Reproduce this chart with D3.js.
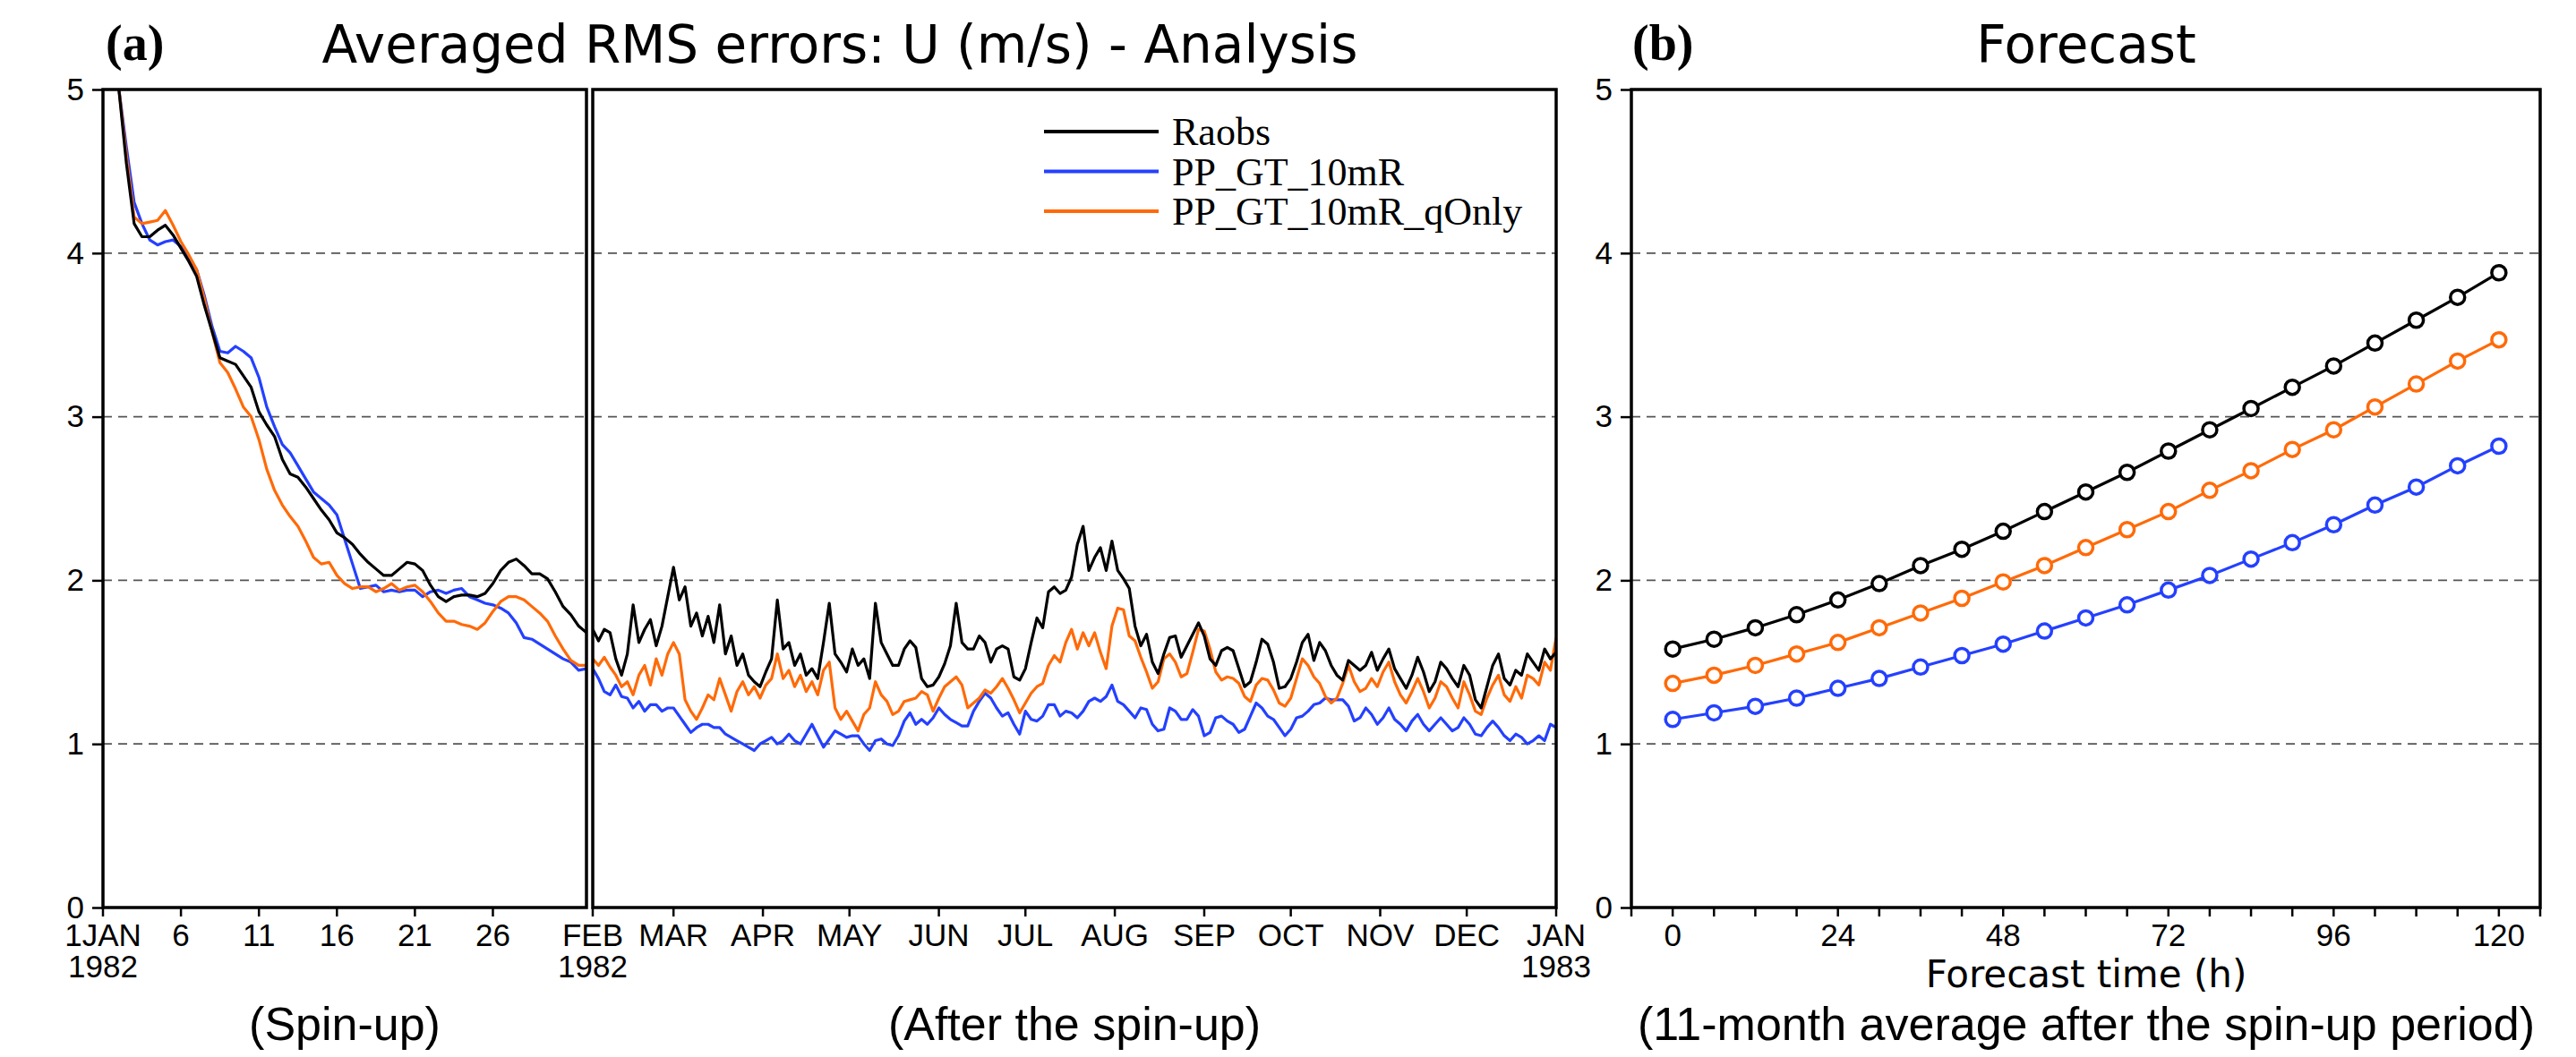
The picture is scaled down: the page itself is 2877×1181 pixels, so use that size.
<!DOCTYPE html>
<html>
<head>
<meta charset="utf-8">
<script src="https://cdn.jsdelivr.net/npm/d3@7"></script>
<style>
  body { margin: 0; background: #fff; }
</style>
</head>
<body>
<div id="chart"></div>
<script>
// Series names and colours
const seriesNames = ["Raobs", "PP_GT_10mR", "PP_GT_10mR_qOnly"];
const seriesColors = ["#000000", "#2440ff", "#ff6a08"];

// Spin-up period: 1 Jan 1982 + 1 day, every 12 h
const spinStartDay = 1;
const spinStepDays = 0.5;
const spinRaobs = [5.02,4.55,4.18,4.10,4.10,4.14,4.17,4.11,4.03,3.95,3.86,3.68,3.52,3.36,3.34,3.32,3.25,3.18,3.03,2.95,
  2.88,2.74,2.65,2.63,2.57,2.50,2.43,2.37,2.29,2.26,2.22,2.16,2.11,2.07,2.03,2.03,2.07,2.11,2.10,2.06,
  1.97,1.90,1.87,1.90,1.91,1.91,1.90,1.92,1.98,2.06,2.11,2.13,2.09,2.04,2.04,2.01,1.93,1.84,1.79,1.72,1.68];
const spinGT = [5.02,4.65,4.31,4.18,4.08,4.05,4.07,4.08,4.04,3.97,3.90,3.74,3.55,3.40,3.39,3.43,3.40,3.36,3.24,3.06,
  2.94,2.83,2.78,2.70,2.62,2.54,2.50,2.46,2.40,2.25,2.10,1.95,1.96,1.97,1.93,1.94,1.93,1.94,1.94,1.90,
  1.93,1.94,1.92,1.94,1.95,1.90,1.88,1.86,1.85,1.83,1.80,1.74,1.65,1.64,1.61,1.58,1.55,1.52,1.50,1.45,1.46];
const spinQOnly = [5.02,4.60,4.22,4.18,4.19,4.20,4.26,4.17,4.07,3.99,3.90,3.72,3.52,3.33,3.27,3.17,3.06,3.00,2.86,2.68,
  2.55,2.46,2.39,2.33,2.24,2.14,2.10,2.11,2.03,1.98,1.95,1.96,1.96,1.93,1.95,1.98,1.94,1.96,1.97,1.93,
  1.87,1.80,1.75,1.75,1.73,1.72,1.70,1.74,1.81,1.87,1.90,1.90,1.88,1.84,1.80,1.75,1.66,1.58,1.51,1.48,1.48];

// After the spin-up: 1 Feb 1982 onward, every 2 days
const afterStepDays = 2;
const afterRaobs = [1.70,1.63,1.70,1.68,1.52,1.42,1.55,1.85,1.62,1.70,1.76,1.60,1.72,1.90,2.08,1.88,1.96,1.72,1.80,1.66,
  1.78,1.62,1.85,1.55,1.66,1.48,1.55,1.42,1.38,1.35,1.44,1.52,1.88,1.58,1.62,1.48,1.55,1.42,1.46,1.40,
  1.62,1.86,1.55,1.50,1.44,1.58,1.48,1.52,1.40,1.86,1.62,1.55,1.48,
  1.48,1.58,1.63,1.59,1.40,1.35,1.36,1.41,1.49,1.60,1.86,1.62,1.58,1.58,1.66,1.62,1.50,1.58,1.60,1.58,
  1.41,1.39,1.46,1.62,1.77,1.71,1.93,1.96,1.92,1.94,2.02,2.22,2.33,2.06,2.14,2.20,2.06,2.24,2.06,2.01,
  1.95,1.72,1.60,1.67,1.50,1.43,1.55,1.65,1.66,1.53,1.60,1.67,1.74,1.66,1.52,1.48,1.57,1.59,1.57,1.46,
  1.35,1.38,1.50,1.64,1.61,1.50,1.34,1.35,1.40,1.50,1.62,1.67,1.51,1.62,1.57,1.48,1.42,1.39,1.51,1.48,
  1.45,
  1.48,1.56,1.45,1.52,1.58,1.46,1.40,1.34,1.42,1.53,1.44,1.32,1.38,1.50,1.46,1.40,1.35,1.48,1.42,1.27,
  1.22,1.35,1.48,1.55,1.40,1.36,1.45,1.42,1.55,1.50,1.45,1.58,1.52,1.56];
const afterGT = [1.46,1.40,1.32,1.30,1.36,1.29,1.28,1.22,1.26,1.20,1.24,1.24,1.20,1.22,1.22,1.17,1.12,1.07,1.10,1.12,
  1.12,1.10,1.10,1.06,1.04,1.02,1.00,0.98,0.96,1.00,1.02,1.04,1.00,1.02,1.06,1.02,1.00,1.06,1.12,1.05,
  0.98,1.03,1.08,1.06,1.04,1.05,1.05,1.00,0.96,1.02,1.03,1.00,0.99,
  1.05,1.14,1.19,1.12,1.15,1.12,1.16,1.22,1.18,1.15,1.13,1.11,1.11,1.20,1.26,1.31,1.28,1.22,1.17,1.19,
  1.12,1.06,1.20,1.15,1.14,1.17,1.24,1.24,1.17,1.20,1.19,1.16,1.20,1.26,1.28,1.26,1.29,1.36,1.26,1.24,
  1.20,1.16,1.22,1.21,1.12,1.08,1.09,1.22,1.20,1.15,1.15,1.21,1.17,1.05,1.07,1.16,1.17,1.14,1.12,1.07,
  1.09,1.17,1.25,1.22,1.17,1.15,1.10,1.05,1.09,1.16,1.17,1.20,1.24,1.25,1.28,1.27,1.27,1.27,1.23,1.14,
  1.16,
  1.22,1.18,1.12,1.16,1.22,1.15,1.12,1.08,1.14,1.18,1.12,1.08,1.12,1.16,1.12,1.08,1.10,1.16,1.12,1.06,
  1.05,1.10,1.14,1.10,1.05,1.02,1.06,1.04,1.00,1.02,1.05,1.02,1.12,1.10];
const afterQOnly = [1.52,1.48,1.53,1.47,1.42,1.35,1.38,1.30,1.42,1.48,1.36,1.52,1.42,1.55,1.62,1.55,1.27,1.20,1.15,1.22,
  1.30,1.27,1.40,1.30,1.20,1.32,1.38,1.30,1.35,1.28,1.36,1.40,1.55,1.40,1.45,1.35,1.42,1.32,1.38,1.30,
  1.45,1.50,1.22,1.15,1.20,1.14,1.08,1.18,1.22,1.38,1.30,1.26,1.18,
  1.20,1.26,1.27,1.28,1.32,1.30,1.20,1.28,1.35,1.38,1.41,1.36,1.22,1.25,1.28,1.33,1.31,1.35,1.40,1.34,
  1.27,1.19,1.25,1.31,1.35,1.37,1.48,1.54,1.50,1.62,1.70,1.58,1.68,1.60,1.68,1.56,1.46,1.72,1.83,1.82,
  1.66,1.63,1.53,1.44,1.34,1.38,1.52,1.55,1.50,1.41,1.43,1.56,1.70,1.69,1.58,1.44,1.39,1.41,1.40,1.37,
  1.29,1.26,1.36,1.40,1.39,1.33,1.25,1.23,1.28,1.40,1.52,1.48,1.41,1.37,1.29,1.25,1.28,1.37,1.48,1.38,
  1.32,
  1.34,1.40,1.35,1.44,1.50,1.38,1.30,1.25,1.32,1.40,1.32,1.22,1.28,1.38,1.35,1.28,1.22,1.38,1.30,1.20,
  1.18,1.28,1.36,1.42,1.30,1.26,1.35,1.28,1.42,1.40,1.36,1.50,1.45,1.65];

// Forecast panel: lead time (h) and 11-month mean RMS errors
const fcstHours = [0,6,12,18,24,30,36,42,48,54,60,66,72,78,84,90,96,102,108,114,120];
const fcstRaobs = [1.58,1.64,1.71,1.79,1.88,1.98,2.09,2.19,2.30,2.42,2.54,2.66,2.79,2.92,3.05,3.18,3.31,3.45,3.59,3.73,3.88];
const fcstGT    = [1.15,1.19,1.23,1.28,1.34,1.40,1.47,1.54,1.61,1.69,1.77,1.85,1.94,2.03,2.13,2.23,2.34,2.46,2.57,2.70,2.82];
const fcstQOnly = [1.37,1.42,1.48,1.55,1.62,1.71,1.80,1.89,1.99,2.09,2.20,2.31,2.42,2.55,2.67,2.80,2.92,3.06,3.20,3.34,3.47];

// Tick labels
const yTicks = [0, 1, 2, 3, 4, 5];
const gridValues = [1, 2, 3, 4];
const monthLabels = ["FEB","MAR","APR","MAY","JUN","JUL","AUG","SEP","OCT","NOV","DEC","JAN"];
const fcstLabelHours = [0, 24, 48, 72, 96, 120];

const width = 2877;
const height = 1181;
const DAY = 864e5;
const jan1 = Date.UTC(1982, 0, 1);
const feb1 = Date.UTC(1982, 1, 1);
const jan1983 = Date.UTC(1983, 0, 1);

const narrowFont = "'Liberation Sans Narrow', 'Arial Narrow', sans-serif";

const svg = d3.select("#chart").append("svg")
  .attr("width", width)
  .attr("height", height)
  .style("background", "#fff");

// Scales
const y = d3.scaleLinear().domain([0, 5]).range([1014, 100]);
const xSpin = d3.scaleUtc().domain([jan1, feb1]).range([115, 655]);
const xAfter = d3.scaleUtc().domain([feb1, jan1983]).range([662, 1738]);
const xFcst = d3.scaleLinear().domain([-6, 126]).range([1822, 2837]);

// Boxes: spin-up, after spin-up, forecast
const boxes = [
  { id: "spin", x0: 115, x1: 655 },
  { id: "after", x0: 662, x1: 1738 },
  { id: "fcst", x0: 1822, x1: 2837 }
];

const defs = svg.append("defs");
boxes.forEach((b) => {
  defs.append("clipPath").attr("id", "clip-" + b.id)
    .append("rect")
    .attr("x", b.x0).attr("y", y(5))
    .attr("width", b.x1 - b.x0).attr("height", y(0) - y(5));
});

// Dashed grid lines
boxes.forEach((b) => {
  svg.append("g").selectAll("line")
    .data(gridValues)
    .enter().append("line")
    .attr("x1", b.x0).attr("x2", b.x1)
    .attr("y1", (d) => y(d)).attr("y2", (d) => y(d))
    .attr("stroke", "#555")
    .attr("stroke-width", 1.8)
    .attr("stroke-dasharray", "10,7");
});

// Line generators
const spinLine = d3.line()
  .x((d, i) => xSpin(jan1 + (spinStartDay + i * spinStepDays) * DAY))
  .y((d) => y(d));
const afterLine = d3.line()
  .x((d, i) => xAfter(feb1 + i * afterStepDays * DAY))
  .y((d) => y(d));

const spinSeries = [spinRaobs, spinGT, spinQOnly];
const afterSeries = [afterRaobs, afterGT, afterQOnly];
const fcstSeries = [fcstRaobs, fcstGT, fcstQOnly];

// Draw order: blue, orange, black on top in places where they overlap
const order = [1, 2, 0];

svg.append("g").attr("clip-path", "url(#clip-spin)")
  .selectAll("path").data(order).enter().append("path")
  .attr("d", (k) => spinLine(spinSeries[k]))
  .attr("fill", "none")
  .attr("stroke", (k) => seriesColors[k])
  .attr("stroke-width", 3.2)
  .attr("stroke-linejoin", "round");

svg.append("g").attr("clip-path", "url(#clip-after)")
  .selectAll("path").data(order).enter().append("path")
  .attr("d", (k) => afterLine(afterSeries[k]))
  .attr("fill", "none")
  .attr("stroke", (k) => seriesColors[k])
  .attr("stroke-width", 3.2)
  .attr("stroke-linejoin", "round");

// Forecast lines with open circles
const fcstLine = d3.line().x((d, i) => xFcst(fcstHours[i])).y((d) => y(d));
const fcstGroup = svg.append("g").attr("clip-path", "url(#clip-fcst)");
[0, 2, 1].forEach((k) => {
  fcstGroup.append("path")
    .attr("d", fcstLine(fcstSeries[k]))
    .attr("fill", "none")
    .attr("stroke", seriesColors[k])
    .attr("stroke-width", 3.2);
  fcstGroup.append("g").selectAll("circle")
    .data(fcstSeries[k]).enter().append("circle")
    .attr("cx", (d, i) => xFcst(fcstHours[i]))
    .attr("cy", (d) => y(d))
    .attr("r", 8)
    .attr("fill", "#fff")
    .attr("stroke", seriesColors[k])
    .attr("stroke-width", 3.5);
});

// Frames
boxes.forEach((b) => {
  svg.append("rect")
    .attr("x", b.x0).attr("y", y(5))
    .attr("width", b.x1 - b.x0).attr("height", y(0) - y(5))
    .attr("fill", "none")
    .attr("stroke", "#000")
    .attr("stroke-width", 3.5);
});

// Y axes (left of spin-up box and forecast box)
function drawYAxis(x0) {
  const g = svg.append("g").attr("transform", `translate(${x0},0)`);
  g.call(d3.axisLeft(y).tickValues(yTicks).tickSize(12).tickPadding(9).tickFormat(d3.format("d")));
  g.select(".domain").remove();
  g.selectAll(".tick line").attr("stroke", "#000").attr("stroke-width", 2.5);
  g.selectAll(".tick text")
    .style("font-family", narrowFont)
    .style("font-size", "35px")
    .attr("fill", "#000");
}
drawYAxis(115);
drawYAxis(1822);

// Bottom ticks helper
function drawTicks(positions) {
  svg.append("g").selectAll("line")
    .data(positions).enter().append("line")
    .attr("x1", (d) => d).attr("x2", (d) => d)
    .attr("y1", y(0)).attr("y2", y(0) + 10)
    .attr("stroke", "#000").attr("stroke-width", 2.5);
}

function drawTickLabels(items) {
  const t = svg.append("g").selectAll("text")
    .data(items).enter().append("text")
    .attr("x", (d) => d.x)
    .attr("y", 1057)
    .attr("text-anchor", "middle")
    .style("font-family", narrowFont)
    .style("font-size", "35px")
    .attr("fill", "#000");
  t.append("tspan").attr("x", (d) => d.x).text((d) => d.lines[0]);
  t.filter((d) => d.lines.length > 1)
    .append("tspan").attr("x", (d) => d.x).attr("dy", 35).text((d) => d.lines[1]);
}

// Spin-up axis: every 5 days
const spinTicks = d3.utcDay.every(5).range(jan1, feb1).filter((d) => d.getUTCDate() < 31);
drawTicks(spinTicks.map((d) => xSpin(d)));
drawTickLabels(spinTicks.map((d, i) => ({
  x: xSpin(d),
  lines: i === 0 ? ["1JAN", "1982"] : [String(d.getUTCDate())]
})));

// After spin-up axis: months
const monthTicks = d3.utcMonth.range(feb1, jan1983 + DAY);
drawTicks(monthTicks.map((d) => xAfter(d)));
drawTickLabels(monthTicks.map((d, i) => ({
  x: xAfter(d),
  lines: i === 0 ? [monthLabels[i], "1982"]
    : i === monthTicks.length - 1 ? [monthLabels[i], "1983"] : [monthLabels[i]]
})));

// Forecast axis: every 6 h, labels every 24 h
drawTicks(d3.range(-6, 127, 6).map((h) => xFcst(h)));
drawTickLabels(fcstLabelHours.map((h) => ({ x: xFcst(h), lines: [String(h)] })));

// Legend
const legend = svg.append("g");
seriesNames.forEach((name, i) => {
  const ly = 147 + i * 44.5;
  legend.append("line")
    .attr("x1", 1166).attr("x2", 1294)
    .attr("y1", ly).attr("y2", ly)
    .attr("stroke", seriesColors[i])
    .attr("stroke-width", 4);
  legend.append("text")
    .attr("x", 1309).attr("y", ly + 15)
    .style("font-family", "'Liberation Serif', 'Times New Roman', serif")
    .style("font-size", "44px")
    .attr("fill", "#000")
    .text(name);
});

// Titles
svg.append("text")
  .attr("x", 118).attr("y", 67)
  .style("font-family", "'Liberation Serif', serif")
  .style("font-weight", "bold")
  .style("font-size", "56px")
  .text("(a)");
svg.append("text")
  .attr("x", 1823).attr("y", 67)
  .style("font-family", "'Liberation Serif', serif")
  .style("font-weight", "bold")
  .style("font-size", "56px")
  .text("(b)");
svg.append("text")
  .attr("x", 938).attr("y", 70)
  .attr("text-anchor", "middle")
  .style("font-family", "'DejaVu Sans', sans-serif")
  .style("font-size", "58px")
  .text("Averaged RMS errors: U (m/s) - Analysis");
svg.append("text")
  .attr("x", 2330).attr("y", 70)
  .attr("text-anchor", "middle")
  .style("font-family", "'DejaVu Sans', sans-serif")
  .style("font-size", "58px")
  .text("Forecast");

// Axis title for forecast panel
svg.append("text")
  .attr("x", 2330).attr("y", 1103)
  .attr("text-anchor", "middle")
  .style("font-family", "'DejaVu Sans', sans-serif")
  .style("font-size", "42px")
  .text("Forecast time (h)");

// Captions
const captions = [
  { x: 385, text: "(Spin-up)" },
  { x: 1200, text: "(After the spin-up)" },
  { x: 2330, text: "(11-month average after the spin-up period)" }
];
svg.append("g").selectAll("text")
  .data(captions).enter().append("text")
  .attr("x", (d) => d.x).attr("y", 1162)
  .attr("text-anchor", "middle")
  .style("font-family", "'Liberation Sans', Arial, sans-serif")
  .style("font-size", "52px")
  .text((d) => d.text);
</script>
</body>
</html>
